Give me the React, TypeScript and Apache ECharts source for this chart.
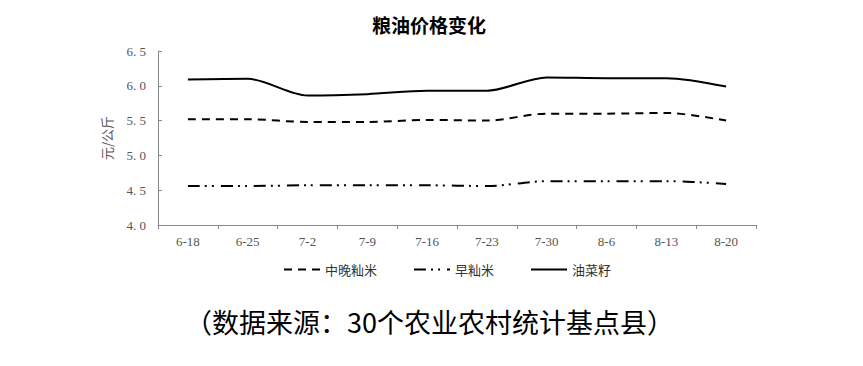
import React, { useEffect, useRef } from "react";
import * as echarts from "echarts";

const categories = ["6-18", "6-25", "7-2", "7-9", "7-16", "7-23", "7-30", "8-6", "8-13", "8-20"];
const midLateRice = [5.52, 5.52, 5.48, 5.48, 5.51, 5.50, 5.60, 5.60, 5.61, 5.50];
const earlyRice = [4.56, 4.56, 4.57, 4.57, 4.57, 4.56, 4.63, 4.63, 4.63, 4.59];
const rapeseed = [6.09, 6.10, 5.86, 5.88, 5.93, 5.93, 6.12, 6.11, 6.11, 5.99];
const seriesNames = ["中晚籼米", "早籼米", "油菜籽"];

const CJK = '"Noto Sans CJK SC", "Noto Sans", sans-serif';
const SERIF = '"Liberation Serif", "DejaVu Serif", serif';

export default function App() {
  const ref = useRef<HTMLDivElement>(null);
  useEffect(() => {
    if (!ref.current) return;
    const chart = echarts.init(ref.current, null, { renderer: "svg" });
    chart.setOption({
      animation: false,
      backgroundColor: "#ffffff",
      title: {
        text: "粮油价格变化",
        left: 416,
        top: 2,
        textAlign: "center",
        textStyle: { fontFamily: CJK, fontSize: 19, fontWeight: "bold", color: "#000" },
      },
      grid: { left: 150, right: 99, top: 43, bottom: 133 },
      legend: {
        top: 250,
        left: 270,
        itemWidth: 36,
        itemHeight: 10,
        itemGap: 36,
        itemStyle: { opacity: 0 },
        textStyle: { fontFamily: CJK, fontSize: 13, color: "#333" },
        data: seriesNames,
      },
      xAxis: {
        type: "category",
        data: categories,
        boundaryGap: true,
        axisLine: { lineStyle: { color: "#888", width: 1 } },
        axisTick: { show: true, inside: false, length: 4, lineStyle: { color: "#888" } },
        axisLabel: { fontFamily: SERIF, fontSize: 13, color: "#555", margin: 10 },
      },
      yAxis: {
        type: "value",
        min: 4.0,
        max: 6.5,
        interval: 0.5,
        name: "元/公斤",
        nameLocation: "middle",
        nameGap: 45,
        nameTextStyle: { fontFamily: CJK, fontSize: 13, color: "#555" },
        axisLine: { show: true, lineStyle: { color: "#888", width: 1 } },
        axisTick: { show: true, inside: true, length: 4, lineStyle: { color: "#888" } },
        splitLine: { show: false },
        axisLabel: {
          fontFamily: SERIF,
          fontSize: 13,
          color: "#555",
          margin: 12,
          formatter: (v: number) => v.toFixed(1).replace(".", ". "),
        },
      },
      series: [
        {
          name: seriesNames[0],
          type: "line",
          data: midLateRice,
          smooth: 0.3,
          symbol: "none",
          lineStyle: { color: "#000", width: 2, type: [8, 6] },
          itemStyle: { color: "#000" },
        },
        {
          name: seriesNames[1],
          type: "line",
          data: earlyRice,
          smooth: 0.3,
          symbol: "none",
          lineStyle: { color: "#000", width: 2, type: [12, 5, 2, 5, 2, 7] },
          itemStyle: { color: "#000" },
        },
        {
          name: seriesNames[2],
          type: "line",
          data: rapeseed,
          smooth: 0.3,
          symbol: "none",
          lineStyle: { color: "#000", width: 2, type: "solid" },
          itemStyle: { color: "#000" },
        },
      ],
      graphic: [
        {
          type: "text",
          left: 177,
          top: 300,
          style: {
            text: "（数据来源：30个农业农村统计基点县）",
            font: `27px ${CJK}`,
            fill: "#000",
          },
        },
      ],
    });
    return () => chart.dispose();
  }, []);
  return <div ref={ref} style={{ width: 847, height: 350 }} />;
}
